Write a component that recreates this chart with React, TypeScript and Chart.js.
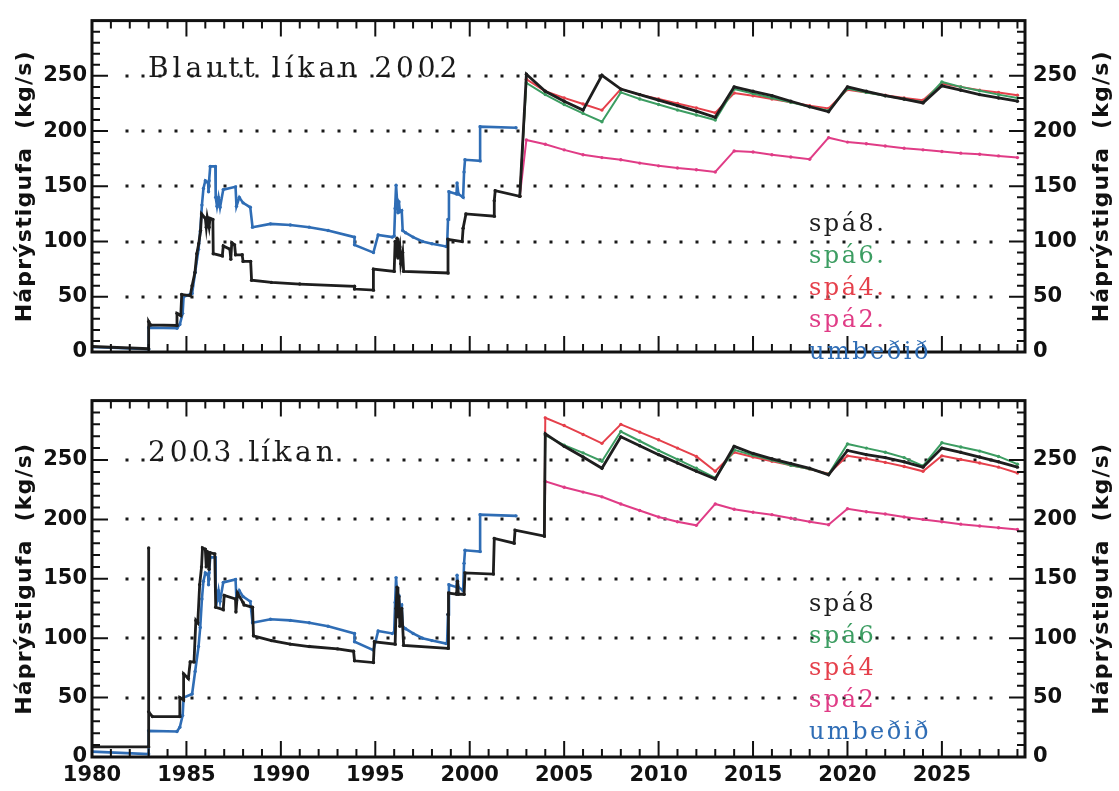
import React, { useEffect, useRef } from 'react';
import { Chart, registerables } from 'chart.js';

Chart.register(...registerables);

// Axis ranges: years on x, high-pressure steam flow (kg/s) on y
const YEAR_MIN = 1980;
const YEAR_MAX = 2029.4;
const FLOW_MAX = 300;
const YEAR_LABELS = [1980, 1985, 1990, 1995, 2000, 2005, 2010, 2015, 2020, 2025];
const FLOW_LABELS = [0, 50, 100, 150, 200, 250];
const GRID_VALUES = [50, 100, 150, 200, 250];

const AXIS_TITLE = 'Háprýstigufa  (kg/s)';

// Requested steam (umbeðið), shared by both panels: [year, kg/s]
const umbedid: [number, number][] = [
  [1980, 4.5], [1983, 2.5], [1983, 22], [1984.5, 21.5], [1984.65, 25], [1984.8, 35],
  [1984.85, 50], [1985.3, 53], [1985.46, 72], [1985.64, 93], [1985.73, 109], [1985.82, 133],
  [1985.9, 148], [1986.0, 155], [1986.15, 153], [1986.17, 145], [1986.2, 155], [1986.26, 168],
  [1986.53, 168], [1986.55, 140], [1986.62, 132], [1986.7, 140], [1986.78, 131], [1986.95, 147],
  [1987.6, 149.5], [1987.65, 132], [1987.8, 140], [1988.0, 135], [1988.38, 131], [1988.5, 113],
  [1989.45, 116], [1990.5, 115], [1991.5, 113], [1992.5, 110], [1993.9, 104], [1993.9, 97],
  [1994.9, 90], [1995.15, 106], [1995.9, 104], [1996.0, 105], [1996.05, 130], [1996.1, 151],
  [1996.15, 138], [1996.2, 126], [1996.25, 136], [1996.3, 127], [1996.4, 128], [1996.45, 110],
  [1996.6, 108], [1997.0, 104], [1997.5, 100], [1998.0, 98], [1998.75, 95.5], [1998.8, 96],
  [1998.85, 120], [1998.9, 145], [1999.3, 143], [1999.33, 153], [1999.4, 143], [1999.65, 140],
  [1999.7, 163], [1999.75, 174], [2000.55, 173], [2000.55, 204], [2002.45, 203],
];

// Simulated history, 2002 model: [year, kg/s]
const history2002: [number, number][] = [
  [1980, 5], [1983, 3], [1983, 27.5], [1983.1, 24.5], [1984.5, 24], [1984.5, 35],
  [1984.7, 33], [1984.75, 52], [1985.2, 51], [1985.3, 60], [1985.45, 72], [1985.55, 89],
  [1985.65, 98], [1985.75, 110], [1985.8, 125], [1986.0, 121], [1986.05, 113], [1986.1, 122],
  [1986.2, 113], [1986.25, 121], [1986.4, 120], [1986.42, 89], [1986.9, 87], [1986.95, 96],
  [1987.3, 93], [1987.35, 84], [1987.4, 99], [1987.55, 97], [1987.6, 88], [1987.95, 88],
  [1988.0, 82], [1988.4, 82], [1988.45, 65], [1989.5, 63], [1991.0, 61.5], [1993.9, 59.5],
  [1993.9, 57], [1994.9, 56], [1994.9, 75], [1996.0, 73], [1996.05, 100], [1996.1, 87],
  [1996.15, 103], [1996.2, 85], [1996.3, 95], [1996.35, 80], [1996.45, 90], [1996.5, 73],
  [1998.85, 71.5], [1998.85, 102], [1999.6, 100], [1999.65, 112], [1999.8, 125], [2001.3, 123],
  [2001.3, 137], [2001.35, 146], [2002.65, 141],
];

// Simulated history, 2003 model: [year, kg/s]
const history2003: [number, number][] = [
  [1980, 8.5], [1983, 8.5], [1983, 176], [1983, 38], [1983.2, 34], [1984.65, 34],
  [1984.65, 50], [1984.85, 48], [1984.85, 70], [1985.1, 66], [1985.2, 80], [1985.4, 80],
  [1985.5, 115], [1985.6, 113], [1985.7, 145], [1985.8, 160], [1985.85, 176], [1986.0, 175],
  [1986.05, 160], [1986.1, 173], [1986.2, 158], [1986.25, 172], [1986.5, 171], [1986.55, 126],
  [1986.95, 124], [1987.0, 136], [1987.6, 133], [1987.62, 122], [1987.7, 138], [1988.0, 130],
  [1988.05, 128], [1988.5, 126], [1988.55, 102], [1989.5, 98], [1990.5, 95], [1991.5, 93],
  [1993.0, 91], [1993.85, 89], [1993.9, 81], [1994.9, 79.5], [1994.95, 97], [1996.05, 95],
  [1996.1, 125], [1996.15, 143], [1996.2, 118], [1996.25, 135], [1996.3, 110], [1996.4, 125],
  [1996.5, 94], [1998.85, 91.5], [1998.85, 120], [1998.9, 138], [1999.3, 137], [1999.35, 148],
  [1999.4, 137], [1999.7, 137], [1999.75, 155], [2001.25, 154], [2001.3, 184], [2002.35, 180],
  [2002.4, 191], [2003.95, 186],
];

// Forecast years
const forecastYears2002 = [
  2003, 2004, 2005, 2006, 2007, 2008, 2009, 2010, 2011, 2012, 2013, 2014, 2015, 2016,
  2017, 2018, 2019, 2020, 2021, 2022, 2023, 2024, 2025, 2026, 2027, 2028, 2029,
];
const forecastYears2003 = [
  2004, 2005, 2006, 2007, 2008, 2009, 2010, 2011, 2012, 2013, 2014, 2015, 2016,
  2017, 2018, 2019, 2020, 2021, 2022, 2023, 2024, 2025, 2026, 2027, 2028, 2029,
];

// Forecasts, 2002 model (kg/s)
const spa8_2002 = [251.5, 236, 227, 219, 250.5, 238, 233, 228, 223, 218, 212.5, 240, 236, 232, 227, 222, 217.5, 240, 236, 232, 229, 225.5, 241, 237, 233, 230, 227];
const spa6_2002 = [243.5, 233, 224, 216, 208.5, 235, 229, 224, 219, 214.5, 210, 238, 234, 230, 226, 222, 218.5, 238.5, 235, 232, 229, 226, 244.5, 240, 236.5, 233, 230];
const spa4_2002 = [247, 236, 230, 224.5, 219, 238, 233, 229, 225, 221, 216.5, 234.5, 232, 229, 226, 223, 220.5, 237.5, 235, 232.5, 230, 228, 243, 240, 237, 235, 232.5];
const spa2_2002 = [192, 188, 183, 178.5, 176, 174, 171, 168.5, 166.5, 165, 163, 182, 181, 178.5, 176.5, 174.5, 194, 190, 188.5, 186.5, 184.5, 183, 181.5, 180, 179, 177.5, 176];

// Forecasts, 2003 model (kg/s)
const spa8_2003 = [272, 261.5, 252.5, 243, 269.5, 262, 254.5, 247.5, 240.5, 234, 261.5, 255.5, 251, 247, 243, 237.5, 258, 254.5, 252, 248.5, 244, 260, 256.5, 252.5, 248.5, 244];
const spa6_2003 = [271, 262.5, 256, 249, 274, 266, 258, 250.5, 243, 235, 258.5, 254, 250, 245.5, 242.5, 238, 263.5, 260, 256.5, 252, 245, 264.5, 261, 257.5, 253, 246.5];
const spa4_2003 = [285.5, 279, 271.5, 264, 280, 273.5, 267, 260, 253, 240.5, 256.5, 252.5, 249, 245.5, 242.5, 238.5, 253.5, 251, 248, 244.5, 240.5, 253.5, 250.5, 247.5, 244, 239];
const spa2_2003 = [232, 227, 223, 219, 213, 207.5, 202, 198, 195, 213, 208.5, 206, 204, 201, 198, 195.5, 209, 206.5, 204.5, 202, 200, 198, 196, 194.5, 193, 191.5];

const COLOR_SPA8 = '#1e1e1e';
const COLOR_SPA6 = '#3c9d62';
const COLOR_SPA4 = '#e5404b';
const COLOR_SPA2 = '#e03c86';
const COLOR_UMBEDID = '#2f6db5';

const LEGEND_COLORS = [COLOR_SPA8, COLOR_SPA6, COLOR_SPA4, COLOR_SPA2, COLOR_UMBEDID];
const LEGEND_2002 = ['spá8.', 'spá6.', 'spá4.', 'spá2.', 'umbeðið'];
const LEGEND_2003 = ['spá8', 'spá6', 'spá4', 'spá2', 'umbeðið'];

type Pair = [number, number];

const toPoints = (pairs: Pair[]) => pairs.map(([x, y]) => ({ x, y }));
const seriesPoints = (years: number[], values: number[]) =>
  years.map((x, i) => ({ x, y: values[i] }));

// Frame, inward ticks, dotted grid and all panel text
const panelDecor = {
  id: 'panelDecor',
  beforeDatasetsDraw(chart: any) {
    const { ctx, chartArea: a, scales } = chart;
    ctx.save();
    ctx.fillStyle = '#1a1a1a';
    for (const v of GRID_VALUES) {
      const py = Math.round(scales.y.getPixelForValue(v));
      for (let px = a.left + 35; px < a.right - 24; px += 16.3) {
        ctx.fillRect(Math.round(px) - 1.5, py - 1.5, 3, 3);
      }
    }
    ctx.restore();
  },
  afterDatasetsDraw(chart: any) {
    const { ctx, chartArea: a, scales } = chart;
    ctx.save();
    ctx.strokeStyle = '#111';
    ctx.lineWidth = 2;
    ctx.beginPath();
    for (let v = 10; v < FLOW_MAX; v += 10) {
      const len = v % 50 === 0 ? 16 : 8;
      const py = scales.y.getPixelForValue(v);
      ctx.moveTo(a.left, py);
      ctx.lineTo(a.left + len, py);
      ctx.moveTo(a.right, py);
      ctx.lineTo(a.right - len, py);
    }
    for (let yr = 1981; yr <= 2029; yr++) {
      const len = yr % 5 === 0 ? 16 : 8;
      const px = scales.x.getPixelForValue(yr);
      ctx.moveTo(px, a.top);
      ctx.lineTo(px, a.top + len);
      ctx.moveTo(px, a.bottom);
      ctx.lineTo(px, a.bottom - len);
    }
    ctx.stroke();
    ctx.lineWidth = 3;
    ctx.strokeRect(a.left, a.top, a.right - a.left, a.bottom - a.top);
    ctx.restore();
  },
  afterDraw(chart: any, _args: any, opts: any) {
    const { ctx, chartArea: a, scales } = chart;
    ctx.save();
    // Axis titles, reading bottom to top on both sides
    ctx.fillStyle = '#111';
    ctx.font = 'bold 22px "DejaVu Sans"';
    (ctx as any).letterSpacing = '1.2px';
    ctx.textAlign = 'center';
    ctx.textBaseline = 'middle';
    const cy = (a.top + a.bottom) / 2;
    for (const cx of [25, 1102]) {
      ctx.save();
      ctx.translate(cx, cy);
      ctx.rotate(-Math.PI / 2);
      ctx.fillText(AXIS_TITLE, 0, 0);
      ctx.restore();
    }
    // Panel title
    ctx.font = '28px "DejaVu Serif"';
    (ctx as any).letterSpacing = '4px';
    ctx.textAlign = 'left';
    ctx.textBaseline = 'alphabetic';
    ctx.fillStyle = '#1a1a1a';
    ctx.fillText(opts.title, 148, scales.y.getPixelForValue(250) + 1);
    // Legend
    ctx.font = '24px "DejaVu Serif"';
    (ctx as any).letterSpacing = '2.5px';
    opts.legend.forEach((label: string, i: number) => {
      ctx.fillStyle = LEGEND_COLORS[i];
      ctx.fillText(label, 809, a.top + 210 + i * 32);
    });
    ctx.restore();
  },
};

const tickFont = { family: 'DejaVu Sans', size: 21, weight: 'bold' as const };

function makeConfig(panel: {
  title: string;
  legend: string[];
  history: Pair[];
  years: number[];
  spa8: number[];
  spa6: number[];
  spa4: number[];
  spa2: number[];
  showX: boolean;
}) {
  const last = panel.history[panel.history.length - 1];
  const start = [{ x: last[0], y: last[1] }];
  const line = (label: string, color: string, data: any[], width: number, order: number) => ({
    label,
    data,
    borderColor: color,
    backgroundColor: color,
    borderWidth: width,
    pointRadius: 1.7,
    pointBorderWidth: 0,
    pointHoverRadius: 0,
    tension: 0,
    fill: false,
    order,
  });
  const yAxis = (position: 'left' | 'right', width: number, padding: number) => ({
    type: 'linear' as const,
    position,
    min: 0,
    max: FLOW_MAX,
    afterBuildTicks: (s: any) => {
      s.ticks = FLOW_LABELS.map((value) => ({ value }));
    },
    afterFit: (s: any) => {
      s.width = width;
    },
    ticks: { font: tickFont, color: '#111', padding, callback: (v: any) => String(v) },
    grid: { display: false, drawTicks: false },
    border: { display: false },
  });
  return {
    type: 'line' as const,
    data: {
      datasets: [
        line('spá8', COLOR_SPA8, [...toPoints(panel.history), ...seriesPoints(panel.years, panel.spa8)], 2.8, 0),
        line('umbeðið', COLOR_UMBEDID, toPoints(umbedid), 2.6, 1),
        line('spá6', COLOR_SPA6, [...start, ...seriesPoints(panel.years, panel.spa6)], 2, 2),
        line('spá4', COLOR_SPA4, [...start, ...seriesPoints(panel.years, panel.spa4)], 2, 3),
        line('spá2', COLOR_SPA2, [...start, ...seriesPoints(panel.years, panel.spa2)], 2, 4),
      ],
    },
    options: {
      responsive: false,
      animation: false as const,
      devicePixelRatio: 1,
      events: [],
      layout: { padding: panel.showX ? { top: 6, bottom: 0, left: 0, right: 0 } : { top: 12, bottom: 14, left: 0, right: 0 } },
      plugins: {
        legend: { display: false },
        tooltip: { enabled: false },
        panelDecor: { title: panel.title, legend: panel.legend },
      },
      scales: {
        x: {
          type: 'linear' as const,
          min: YEAR_MIN,
          max: YEAR_MAX,
          display: panel.showX,
          afterBuildTicks: (s: any) => {
            s.ticks = YEAR_LABELS.map((value) => ({ value }));
          },
          afterFit: (s: any) => {
            s.height = 34;
          },
          ticks: {
            font: tickFont,
            color: '#111',
            padding: 6,
            maxRotation: 0,
            minRotation: 0,
            autoSkip: false,
            callback: (v: any) => String(v),
          },
          grid: { display: false, drawTicks: false },
          border: { display: false },
        },
        y: yAxis('left', 92, 5),
        y2: yAxis('right', 94, 8),
      },
    },
    plugins: [panelDecor],
  };
}

export default function App() {
  const topRef = useRef<HTMLCanvasElement>(null);
  const bottomRef = useRef<HTMLCanvasElement>(null);

  useEffect(() => {
    const top = new Chart(
      topRef.current as HTMLCanvasElement,
      makeConfig({
        title: 'Blautt líkan 2002',
        legend: LEGEND_2002,
        history: history2002,
        years: forecastYears2002,
        spa8: spa8_2002,
        spa6: spa6_2002,
        spa4: spa4_2002,
        spa2: spa2_2002,
        showX: false,
      }) as any
    );
    const bottom = new Chart(
      bottomRef.current as HTMLCanvasElement,
      makeConfig({
        title: '2003 líkan',
        legend: LEGEND_2003,
        history: history2003,
        years: forecastYears2003,
        spa8: spa8_2003,
        spa6: spa6_2003,
        spa4: spa4_2003,
        spa2: spa2_2003,
        showX: true,
      }) as any
    );
    return () => {
      top.destroy();
      bottom.destroy();
    };
  }, []);

  return (
    <div style={{ position: 'absolute', left: 0, top: 0, width: 1119, height: 791, background: '#fff' }}>
      <canvas ref={topRef} width={1119} height={400} style={{ position: 'absolute', left: 0, top: 0 }} />
      <canvas ref={bottomRef} width={1119} height={411} style={{ position: 'absolute', left: 0, top: 380 }} />
    </div>
  );
}
